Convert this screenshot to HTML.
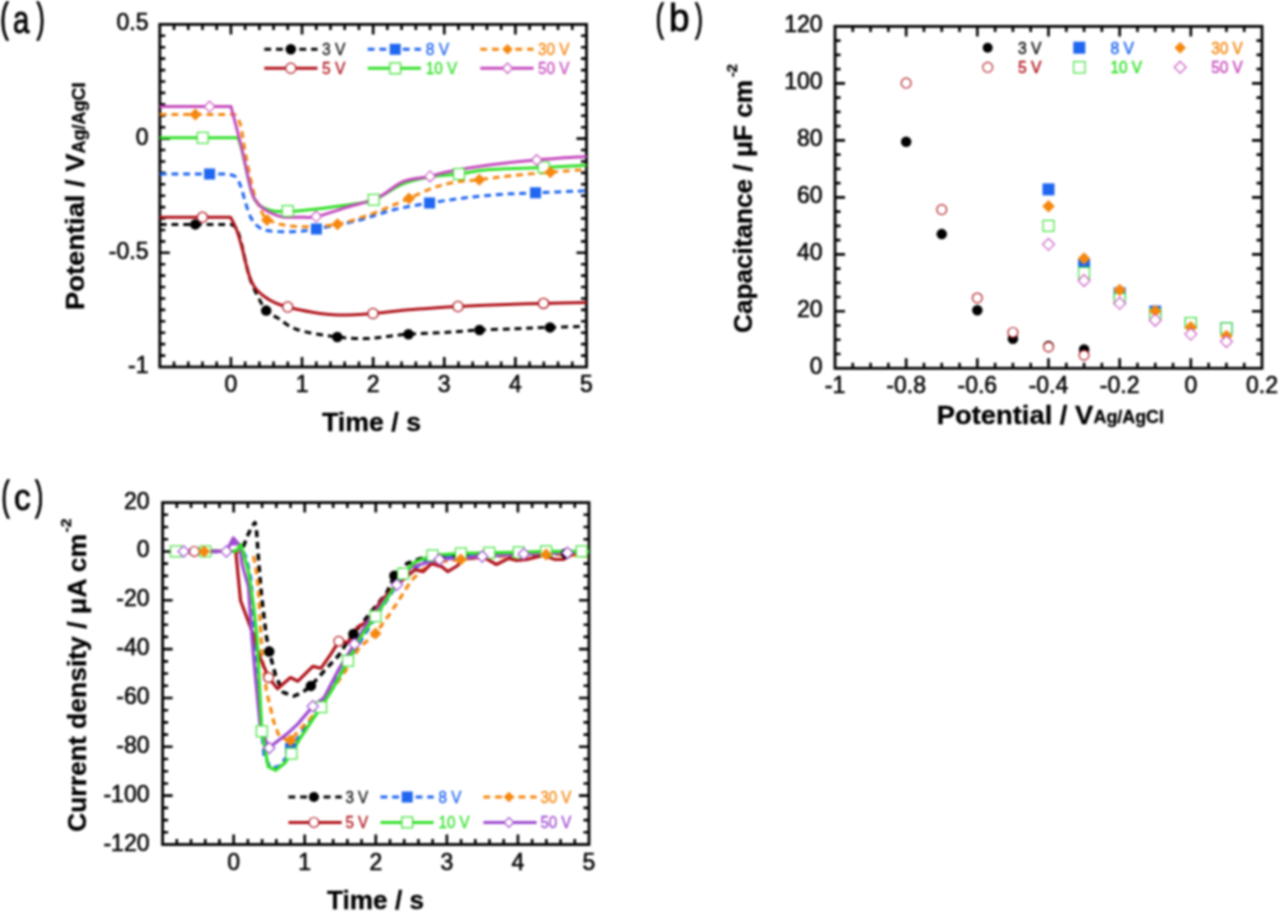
<!DOCTYPE html><html><head><meta charset="utf-8"><style>html,body{margin:0;padding:0;background:#fff;width:1280px;height:916px;overflow:hidden}svg{display:block;filter:blur(0.8px)}</style></head><body>
<svg width="1280" height="916" viewBox="0 0 1280 916" font-family='"Liberation Sans", sans-serif'>
<rect width="1280" height="916" fill="#fff"/>
<rect x="159.8" y="24.4" width="426.7" height="342.6" fill="none" stroke="#000" stroke-width="2.8"/>
<path d="M174.02 367.0V361.5 M174.02 24.4V29.9 M188.25 367.0V361.5 M188.25 24.4V29.9 M202.47 367.0V361.5 M202.47 24.4V29.9 M216.69 367.0V361.5 M216.69 24.4V29.9 M230.92 367.0V357.0 M230.92 24.4V34.4 M245.14 367.0V361.5 M245.14 24.4V29.9 M259.36 367.0V361.5 M259.36 24.4V29.9 M273.59 367.0V361.5 M273.59 24.4V29.9 M287.81 367.0V361.5 M287.81 24.4V29.9 M302.03 367.0V357.0 M302.03 24.4V34.4 M316.26 367.0V361.5 M316.26 24.4V29.9 M330.48 367.0V361.5 M330.48 24.4V29.9 M344.70 367.0V361.5 M344.70 24.4V29.9 M358.93 367.0V361.5 M358.93 24.4V29.9 M373.15 367.0V357.0 M373.15 24.4V34.4 M387.37 367.0V361.5 M387.37 24.4V29.9 M401.60 367.0V361.5 M401.60 24.4V29.9 M415.82 367.0V361.5 M415.82 24.4V29.9 M430.04 367.0V361.5 M430.04 24.4V29.9 M444.27 367.0V357.0 M444.27 24.4V34.4 M458.49 367.0V361.5 M458.49 24.4V29.9 M472.71 367.0V361.5 M472.71 24.4V29.9 M486.94 367.0V361.5 M486.94 24.4V29.9 M501.16 367.0V361.5 M501.16 24.4V29.9 M515.38 367.0V357.0 M515.38 24.4V34.4 M529.61 367.0V361.5 M529.61 24.4V29.9 M543.83 367.0V361.5 M543.83 24.4V29.9 M558.05 367.0V361.5 M558.05 24.4V29.9 M572.28 367.0V361.5 M572.28 24.4V29.9 M159.8 35.82H165.3 M586.5 35.82H581.0 M159.8 47.24H165.3 M586.5 47.24H581.0 M159.8 58.66H165.3 M586.5 58.66H581.0 M159.8 70.08H165.3 M586.5 70.08H581.0 M159.8 81.50H165.3 M586.5 81.50H581.0 M159.8 92.92H165.3 M586.5 92.92H581.0 M159.8 104.34H165.3 M586.5 104.34H581.0 M159.8 115.76H165.3 M586.5 115.76H581.0 M159.8 127.18H165.3 M586.5 127.18H581.0 M159.8 138.60H169.8 M586.5 138.60H576.5 M159.8 150.02H165.3 M586.5 150.02H581.0 M159.8 161.44H165.3 M586.5 161.44H581.0 M159.8 172.86H165.3 M586.5 172.86H581.0 M159.8 184.28H165.3 M586.5 184.28H581.0 M159.8 195.70H165.3 M586.5 195.70H581.0 M159.8 207.12H165.3 M586.5 207.12H581.0 M159.8 218.54H165.3 M586.5 218.54H581.0 M159.8 229.96H165.3 M586.5 229.96H581.0 M159.8 241.38H165.3 M586.5 241.38H581.0 M159.8 252.80H169.8 M586.5 252.80H576.5 M159.8 264.22H165.3 M586.5 264.22H581.0 M159.8 275.64H165.3 M586.5 275.64H581.0 M159.8 287.06H165.3 M586.5 287.06H581.0 M159.8 298.48H165.3 M586.5 298.48H581.0 M159.8 309.90H165.3 M586.5 309.90H581.0 M159.8 321.32H165.3 M586.5 321.32H581.0 M159.8 332.74H165.3 M586.5 332.74H581.0 M159.8 344.16H165.3 M586.5 344.16H581.0 M159.8 355.58H165.3 M586.5 355.58H581.0" stroke="#000" stroke-width="2.6" fill="none"/>
<text transform="translate(0.26,31.73) scale(0.623,1)" font-size="39.93" fill="#000" stroke="#000" stroke-width="1.3">(</text><text transform="translate(13.05,32.72) scale(0.749,1)" font-size="39.24" fill="#000" stroke="#000" stroke-width="0.9">a</text><text transform="translate(36.86,31.73) scale(0.595,1)" font-size="39.93" fill="#000" stroke="#000" stroke-width="1.3">)</text>
<text x="148.5" y="30.4" font-size="23" text-anchor="end" font-weight="normal" fill="#000" stroke="#000" stroke-width="0.55" >0.5</text>
<text x="148.5" y="144.6" font-size="23" text-anchor="end" font-weight="normal" fill="#000" stroke="#000" stroke-width="0.55" >0</text>
<text x="148.5" y="258.8" font-size="23" text-anchor="end" font-weight="normal" fill="#000" stroke="#000" stroke-width="0.55" >-0.5</text>
<text x="148.5" y="373.00000000000006" font-size="23" text-anchor="end" font-weight="normal" fill="#000" stroke="#000" stroke-width="0.55" >-1</text>
<text x="230.91666666666669" y="392" font-size="23" text-anchor="middle" font-weight="normal" fill="#000" stroke="#000" stroke-width="0.55" >0</text>
<text x="302.0333333333333" y="392" font-size="23" text-anchor="middle" font-weight="normal" fill="#000" stroke="#000" stroke-width="0.55" >1</text>
<text x="373.15" y="392" font-size="23" text-anchor="middle" font-weight="normal" fill="#000" stroke="#000" stroke-width="0.55" >2</text>
<text x="444.26666666666665" y="392" font-size="23" text-anchor="middle" font-weight="normal" fill="#000" stroke="#000" stroke-width="0.55" >3</text>
<text x="515.3833333333333" y="392" font-size="23" text-anchor="middle" font-weight="normal" fill="#000" stroke="#000" stroke-width="0.55" >4</text>
<text x="586.5" y="392" font-size="23" text-anchor="middle" font-weight="normal" fill="#000" stroke="#000" stroke-width="0.55" >5</text>
<text x="322" y="431.2" font-size="26.5" text-anchor="start" font-weight="bold" fill="#000" textLength="99" lengthAdjust="spacingAndGlyphs" stroke="#000" stroke-width="0.3" >Time / s</text>
<g transform="translate(83.8,310) rotate(-90)"><text x="0" y="0" font-size="26.5" text-anchor="start" font-weight="bold" fill="#000" textLength="156.5" lengthAdjust="spacingAndGlyphs" stroke="#000" stroke-width="0.3" >Potential / V</text><text x="156.5" y="1.2" font-size="18" text-anchor="start" font-weight="bold" fill="#000" textLength="71" lengthAdjust="spacingAndGlyphs" stroke="#000" stroke-width="0.3" >Ag/AgCl</text></g>
<path d="M159.8 224.4 L231.00 224.40 C231.83 225.00 234.43 225.52 236.00 228.00 C237.57 230.48 238.68 233.15 240.40 239.30 C242.12 245.45 244.33 257.37 246.30 264.90 C248.27 272.43 248.92 276.88 252.20 284.50 C255.48 292.12 261.73 305.02 266.00 310.60 C270.27 316.18 272.57 314.82 277.80 318.00 C283.03 321.18 287.53 326.53 297.40 329.70 C307.27 332.87 325.53 335.52 337.00 337.00 C348.47 338.48 357.53 338.73 366.20 338.60 C374.87 338.47 382.00 336.93 389.00 336.20 C396.00 335.47 398.42 334.85 408.20 334.20 C417.98 333.55 435.90 333.00 447.70 332.30 C459.50 331.60 467.62 330.59 479.00 330.00 C490.38 329.41 504.33 329.18 516.00 328.75 C527.67 328.32 537.25 327.81 549.00 327.40 C560.75 326.99 580.25 326.48 586.50 326.30" fill="none" stroke="#000000" stroke-width="3.0" stroke-linejoin="round" stroke-dasharray="6.8 4.9"/>
<path d="M159.8 217.3 L230.60 217.30 C231.58 219.33 234.53 224.22 236.50 229.50 C238.47 234.78 240.43 241.80 242.40 249.00 C244.37 256.20 246.33 266.45 248.30 272.70 C250.27 278.95 251.58 282.57 254.20 286.50 C256.82 290.43 260.40 293.52 264.00 296.30 C267.60 299.08 271.87 301.42 275.80 303.20 C279.73 304.98 281.70 305.53 287.60 307.00 C293.50 308.47 302.68 310.67 311.20 312.00 C319.72 313.33 328.42 314.75 338.70 315.00 C348.98 315.25 361.25 314.37 372.90 313.50 C384.55 312.63 398.42 310.73 408.60 309.80 C418.78 308.87 425.80 308.45 434.00 307.90 C442.20 307.35 445.76 307.07 457.80 306.50 C469.84 305.93 492.05 305.02 506.25 304.50 C520.45 303.98 529.62 303.73 543.00 303.40 C556.38 303.07 579.25 302.65 586.50 302.50" fill="none" stroke="#B0141C" stroke-width="3.0" stroke-linejoin="round"/>
<path d="M159.8 174 L228.00 174.00 C229.33 174.50 233.83 174.83 236.00 177.00 C238.17 179.17 239.38 182.62 241.00 187.00 C242.62 191.38 243.93 197.98 245.70 203.30 C247.47 208.62 249.00 214.67 251.60 218.90 C254.20 223.13 257.07 226.58 261.30 228.70 C265.53 230.82 270.55 231.18 277.00 231.60 C283.45 232.02 293.43 231.63 300.00 231.20 C306.57 230.77 306.63 230.83 316.40 229.00 C326.17 227.17 345.71 223.42 358.60 220.20 C371.49 216.98 381.92 212.57 393.75 209.70 C405.58 206.83 417.89 204.95 429.60 203.00 C441.31 201.05 452.40 199.42 464.00 198.00 C475.60 196.58 487.28 195.37 499.20 194.50 C511.12 193.63 520.95 193.42 535.50 192.80 C550.05 192.18 578.00 191.13 586.50 190.80" fill="none" stroke="#1F66F0" stroke-width="3.0" stroke-linejoin="round" stroke-dasharray="6.8 4.9"/>
<path d="M159.8 114.4 L235.00 114.40 C235.92 116.17 238.72 118.32 240.50 125.00 C242.28 131.68 243.53 143.40 245.70 154.50 C247.87 165.60 250.90 182.18 253.50 191.60 C256.10 201.02 259.05 206.43 261.30 211.00 C263.55 215.57 263.42 216.70 267.00 219.00 C270.58 221.30 276.26 223.52 282.80 224.80 C289.34 226.08 297.13 226.80 306.25 226.70 C315.37 226.60 326.82 226.25 337.50 224.20 C348.18 222.15 360.93 217.60 370.30 214.40 C379.68 211.20 387.30 207.67 393.75 205.00 C400.20 202.33 402.76 201.13 409.00 198.40 C415.24 195.67 423.98 191.22 431.20 188.60 C438.42 185.98 444.28 184.18 452.30 182.70 C460.32 181.22 469.52 180.87 479.30 179.70 C489.08 178.53 499.17 176.95 511.00 175.70 C522.83 174.45 537.72 173.23 550.30 172.20 C562.88 171.17 580.47 169.95 586.50 169.50" fill="none" stroke="#F5870F" stroke-width="3.0" stroke-linejoin="round" stroke-dasharray="6.8 4.9"/>
<path d="M159.8 137.8 L238.00 137.80 C238.63 139.83 239.53 140.97 241.80 150.00 C244.07 159.03 248.67 182.80 251.60 192.00 C254.53 201.20 256.17 202.12 259.40 205.20 C262.63 208.28 267.10 209.45 271.00 210.50 C274.90 211.55 277.97 211.45 282.80 211.50 C287.63 211.55 289.58 211.85 300.00 210.80 C310.42 209.75 333.00 207.03 345.30 205.20 C357.60 203.37 364.18 203.35 373.80 199.80 C383.42 196.25 393.43 187.72 403.00 183.90 C412.57 180.08 421.87 178.55 431.20 176.90 C440.53 175.25 449.62 175.18 459.00 174.00 C468.38 172.82 473.38 170.88 487.50 169.80 C501.62 168.72 527.20 168.25 543.70 167.50 C560.20 166.75 579.37 165.67 586.50 165.30" fill="none" stroke="#34E02C" stroke-width="3.0" stroke-linejoin="round"/>
<path d="M159.8 106.6 L231.00 106.60 C232.80 113.60 238.37 134.43 241.80 148.60 C245.23 162.77 248.67 182.17 251.60 191.60 C254.53 201.03 256.17 201.63 259.40 205.20 C262.63 208.77 267.10 211.03 271.00 213.00 C274.90 214.97 277.97 216.30 282.80 217.00 C287.63 217.70 294.43 217.27 300.00 217.20 C305.57 217.13 308.38 218.25 316.20 216.60 C324.02 214.95 336.72 210.40 346.90 207.30 C357.08 204.20 367.95 202.28 377.30 198.00 C386.65 193.72 394.22 185.20 403.00 181.60 C411.78 178.00 422.95 177.97 430.00 176.40 C437.05 174.83 435.72 174.07 445.30 172.20 C454.88 170.33 472.27 167.23 487.50 165.20 C502.73 163.17 520.20 161.45 536.70 160.00 C553.20 158.55 578.20 157.08 586.50 156.50" fill="none" stroke="#C64CBE" stroke-width="3.0" stroke-linejoin="round"/>
<circle cx="195.30" cy="224.40" r="5.25" fill="#000000"/>
<circle cx="266.20" cy="310.60" r="5.25" fill="#000000"/>
<circle cx="337.30" cy="337.00" r="5.25" fill="#000000"/>
<circle cx="408.50" cy="334.20" r="5.25" fill="#000000"/>
<circle cx="479.50" cy="330.00" r="5.25" fill="#000000"/>
<circle cx="550.00" cy="327.40" r="5.25" fill="#000000"/>
<circle cx="202.40" cy="217.30" r="5.10" fill="#fff" stroke="#B0141C" stroke-width="1.3"/>
<circle cx="287.70" cy="307.00" r="5.10" fill="#fff" stroke="#B0141C" stroke-width="1.3"/>
<circle cx="373.00" cy="313.50" r="5.10" fill="#fff" stroke="#B0141C" stroke-width="1.3"/>
<circle cx="458.00" cy="306.50" r="5.10" fill="#fff" stroke="#B0141C" stroke-width="1.3"/>
<circle cx="543.50" cy="303.40" r="5.10" fill="#fff" stroke="#B0141C" stroke-width="1.3"/>
<rect x="204.10" y="168.50" width="11" height="11" fill="#1F66F0"/>
<rect x="310.90" y="223.50" width="11" height="11" fill="#1F66F0"/>
<rect x="424.10" y="197.50" width="11" height="11" fill="#1F66F0"/>
<rect x="530.00" y="187.30" width="11" height="11" fill="#1F66F0"/>
<rect x="197.25" y="132.35" width="10.90" height="10.90" fill="#fff" stroke="#34E02C" stroke-width="1.1"/>
<rect x="282.25" y="205.55" width="10.90" height="10.90" fill="#fff" stroke="#34E02C" stroke-width="1.1"/>
<rect x="368.25" y="194.35" width="10.90" height="10.90" fill="#fff" stroke="#34E02C" stroke-width="1.1"/>
<rect x="453.55" y="168.55" width="10.90" height="10.90" fill="#fff" stroke="#34E02C" stroke-width="1.1"/>
<rect x="538.25" y="161.85" width="10.90" height="10.90" fill="#fff" stroke="#34E02C" stroke-width="1.1"/>
<path d="M195.30 108.40L201.30 114.40L195.30 120.40L189.30 114.40Z" fill="#F5870F"/>
<path d="M267.00 214.00L273.00 220.00L267.00 226.00L261.00 220.00Z" fill="#F5870F"/>
<path d="M337.50 218.20L343.50 224.20L337.50 230.20L331.50 224.20Z" fill="#F5870F"/>
<path d="M409.00 192.40L415.00 198.40L409.00 204.40L403.00 198.40Z" fill="#F5870F"/>
<path d="M479.30 173.70L485.30 179.70L479.30 185.70L473.30 179.70Z" fill="#F5870F"/>
<path d="M550.30 166.20L556.30 172.20L550.30 178.20L544.30 172.20Z" fill="#F5870F"/>
<path d="M209.60 101.15L215.05 106.60L209.60 112.05L204.15 106.60Z" fill="#fff" stroke="#C64CBE" stroke-width="1.1"/>
<path d="M316.20 211.15L321.65 216.60L316.20 222.05L310.75 216.60Z" fill="#fff" stroke="#C64CBE" stroke-width="1.1"/>
<path d="M430.00 170.95L435.45 176.40L430.00 181.85L424.55 176.40Z" fill="#fff" stroke="#C64CBE" stroke-width="1.1"/>
<path d="M536.70 154.55L542.15 160.00L536.70 165.45L531.25 160.00Z" fill="#fff" stroke="#C64CBE" stroke-width="1.1"/>
<path d="M264.3 49.3H317.5" fill="none" stroke="#000000" stroke-width="3" stroke-linejoin="round" stroke-dasharray="6.8 4.9"/>
<circle cx="290.80" cy="49.30" r="5.25" fill="#000000"/>
<text x="322" y="55.3" font-size="16.3" text-anchor="start" font-weight="normal" fill="#111" textLength="23.5" lengthAdjust="spacingAndGlyphs" stroke="#111" stroke-width="0.3" >3 V</text>
<path d="M367.7 49.3H420.9" fill="none" stroke="#1F66F0" stroke-width="3" stroke-linejoin="round" stroke-dasharray="6.8 4.9"/>
<rect x="389.70" y="43.80" width="11" height="11" fill="#1F66F0"/>
<text x="425.8" y="55.3" font-size="16.3" text-anchor="start" font-weight="normal" fill="#1F66F0" textLength="23.5" lengthAdjust="spacingAndGlyphs" stroke="#1F66F0" stroke-width="0.3" >8 V</text>
<path d="M480.3 49.3H533.5" fill="none" stroke="#F5870F" stroke-width="3" stroke-linejoin="round" stroke-dasharray="6.8 4.9"/>
<path d="M507.50 44.05L512.75 49.30L507.50 54.55L502.25 49.30Z" fill="#F5870F"/>
<text x="537.9" y="55.3" font-size="16.3" text-anchor="start" font-weight="normal" fill="#F5870F" textLength="31.5" lengthAdjust="spacingAndGlyphs" stroke="#F5870F" stroke-width="0.3" >30 V</text>
<path d="M264.3 68.3H317.5" fill="none" stroke="#B0141C" stroke-width="3" stroke-linejoin="round"/>
<circle cx="290.80" cy="68.30" r="5.15" fill="#fff" stroke="#B0141C" stroke-width="1.2"/>
<text x="322" y="74.3" font-size="16.3" text-anchor="start" font-weight="normal" fill="#B0141C" textLength="23.5" lengthAdjust="spacingAndGlyphs" stroke="#B0141C" stroke-width="0.3" >5 V</text>
<path d="M367.7 68.3H420.9" fill="none" stroke="#34E02C" stroke-width="3" stroke-linejoin="round"/>
<rect x="389.80" y="62.90" width="10.80" height="10.80" fill="#fff" stroke="#34E02C" stroke-width="1.2"/>
<text x="425.8" y="74.3" font-size="16.3" text-anchor="start" font-weight="normal" fill="#34E02C" textLength="31.5" lengthAdjust="spacingAndGlyphs" stroke="#34E02C" stroke-width="0.3" >10 V</text>
<path d="M480.3 68.3H533.5" fill="none" stroke="#C64CBE" stroke-width="3" stroke-linejoin="round"/>
<path d="M507.50 63.15L512.65 68.30L507.50 73.45L502.35 68.30Z" fill="#fff" stroke="#C64CBE" stroke-width="1.2"/>
<text x="537.9" y="74.3" font-size="16.3" text-anchor="start" font-weight="normal" fill="#C64CBE" textLength="31.5" lengthAdjust="spacingAndGlyphs" stroke="#C64CBE" stroke-width="0.3" >50 V</text>
<rect x="835.0" y="26.4" width="427.0" height="341.90000000000003" fill="none" stroke="#000" stroke-width="2.8"/>
<path d="M852.79 368.3V362.8 M852.79 26.4V31.9 M870.58 368.3V362.8 M870.58 26.4V31.9 M888.38 368.3V362.8 M888.38 26.4V31.9 M906.17 368.3V358.3 M906.17 26.4V36.4 M923.96 368.3V362.8 M923.96 26.4V31.9 M941.75 368.3V362.8 M941.75 26.4V31.9 M959.54 368.3V362.8 M959.54 26.4V31.9 M977.33 368.3V358.3 M977.33 26.4V36.4 M995.12 368.3V362.8 M995.12 26.4V31.9 M1012.92 368.3V362.8 M1012.92 26.4V31.9 M1030.71 368.3V362.8 M1030.71 26.4V31.9 M1048.50 368.3V358.3 M1048.50 26.4V36.4 M1066.29 368.3V362.8 M1066.29 26.4V31.9 M1084.08 368.3V362.8 M1084.08 26.4V31.9 M1101.88 368.3V362.8 M1101.88 26.4V31.9 M1119.67 368.3V358.3 M1119.67 26.4V36.4 M1137.46 368.3V362.8 M1137.46 26.4V31.9 M1155.25 368.3V362.8 M1155.25 26.4V31.9 M1173.04 368.3V362.8 M1173.04 26.4V31.9 M1190.83 368.3V358.3 M1190.83 26.4V36.4 M1208.62 368.3V362.8 M1208.62 26.4V31.9 M1226.42 368.3V362.8 M1226.42 26.4V31.9 M1244.21 368.3V362.8 M1244.21 26.4V31.9 M835.0 354.05H840.5 M1262.0 354.05H1256.5 M835.0 339.81H840.5 M1262.0 339.81H1256.5 M835.0 325.56H840.5 M1262.0 325.56H1256.5 M835.0 311.32H845.0 M1262.0 311.32H1252.0 M835.0 297.07H840.5 M1262.0 297.07H1256.5 M835.0 282.82H840.5 M1262.0 282.82H1256.5 M835.0 268.58H840.5 M1262.0 268.58H1256.5 M835.0 254.33H845.0 M1262.0 254.33H1252.0 M835.0 240.09H840.5 M1262.0 240.09H1256.5 M835.0 225.84H840.5 M1262.0 225.84H1256.5 M835.0 211.60H840.5 M1262.0 211.60H1256.5 M835.0 197.35H845.0 M1262.0 197.35H1252.0 M835.0 183.10H840.5 M1262.0 183.10H1256.5 M835.0 168.86H840.5 M1262.0 168.86H1256.5 M835.0 154.61H840.5 M1262.0 154.61H1256.5 M835.0 140.37H845.0 M1262.0 140.37H1252.0 M835.0 126.12H840.5 M1262.0 126.12H1256.5 M835.0 111.88H840.5 M1262.0 111.88H1256.5 M835.0 97.63H840.5 M1262.0 97.63H1256.5 M835.0 83.38H845.0 M1262.0 83.38H1252.0 M835.0 69.14H840.5 M1262.0 69.14H1256.5 M835.0 54.89H840.5 M1262.0 54.89H1256.5 M835.0 40.65H840.5 M1262.0 40.65H1256.5" stroke="#000" stroke-width="2.6" fill="none"/>
<text transform="translate(655.73,30.78) scale(0.598,1)" font-size="39.71" fill="#000" stroke="#000" stroke-width="1.3">(</text><text transform="translate(669.02,31.22) scale(0.948,1)" font-size="38.94" fill="#000" stroke="#000" stroke-width="0.9">b</text><text transform="translate(695.17,30.78) scale(0.570,1)" font-size="39.71" fill="#000" stroke="#000" stroke-width="1.3">)</text>
<text x="822.5" y="374.3" font-size="23" text-anchor="end" font-weight="normal" fill="#000" stroke="#000" stroke-width="0.55" >0</text>
<text x="822.5" y="317.31666666666666" font-size="23" text-anchor="end" font-weight="normal" fill="#000" stroke="#000" stroke-width="0.55" >20</text>
<text x="822.5" y="260.3333333333333" font-size="23" text-anchor="end" font-weight="normal" fill="#000" stroke="#000" stroke-width="0.55" >40</text>
<text x="822.5" y="203.35" font-size="23" text-anchor="end" font-weight="normal" fill="#000" stroke="#000" stroke-width="0.55" >60</text>
<text x="822.5" y="146.36666666666665" font-size="23" text-anchor="end" font-weight="normal" fill="#000" stroke="#000" stroke-width="0.55" >80</text>
<text x="822.5" y="89.38333333333333" font-size="23" text-anchor="end" font-weight="normal" fill="#000" stroke="#000" stroke-width="0.55" >100</text>
<text x="822.5" y="32.39999999999998" font-size="23" text-anchor="end" font-weight="normal" fill="#000" stroke="#000" stroke-width="0.55" >120</text>
<text x="835.0" y="392.5" font-size="23" text-anchor="middle" font-weight="normal" fill="#000" stroke="#000" stroke-width="0.55" >-1</text>
<text x="906.1666666666666" y="392.5" font-size="23" text-anchor="middle" font-weight="normal" fill="#000" stroke="#000" stroke-width="0.55" >-0.8</text>
<text x="977.3333333333334" y="392.5" font-size="23" text-anchor="middle" font-weight="normal" fill="#000" stroke="#000" stroke-width="0.55" >-0.6</text>
<text x="1048.5" y="392.5" font-size="23" text-anchor="middle" font-weight="normal" fill="#000" stroke="#000" stroke-width="0.55" >-0.4</text>
<text x="1119.6666666666667" y="392.5" font-size="23" text-anchor="middle" font-weight="normal" fill="#000" stroke="#000" stroke-width="0.55" >-0.2</text>
<text x="1190.8333333333335" y="392.5" font-size="23" text-anchor="middle" font-weight="normal" fill="#000" stroke="#000" stroke-width="0.55" >0</text>
<text x="1262.0" y="392.5" font-size="23" text-anchor="middle" font-weight="normal" fill="#000" stroke="#000" stroke-width="0.55" >0.2</text>
<text x="936.8" y="423.6" font-size="26.5" text-anchor="start" font-weight="bold" fill="#000" textLength="156.5" lengthAdjust="spacingAndGlyphs" stroke="#000" stroke-width="0.3" >Potential / V</text>
<text x="1093.5" y="423.4" font-size="18" text-anchor="start" font-weight="bold" fill="#000" textLength="70.5" lengthAdjust="spacingAndGlyphs" stroke="#000" stroke-width="0.3" >Ag/AgCl</text>
<g transform="translate(752,333) rotate(-90)"><text x="0" y="0" font-size="26.5" text-anchor="start" font-weight="bold" fill="#000" textLength="253" lengthAdjust="spacingAndGlyphs" stroke="#000" stroke-width="0.3" >Capacitance / μF cm</text></g>
<g transform="translate(737,77) rotate(-90)"><text x="0" y="0" font-size="14" text-anchor="start" font-weight="bold" fill="#000" textLength="13" lengthAdjust="spacingAndGlyphs" stroke="#000" stroke-width="0.3" >-2</text></g>
<circle cx="906.17" cy="141.79" r="5.25" fill="#000000"/>
<circle cx="941.75" cy="234.10" r="5.25" fill="#000000"/>
<circle cx="977.33" cy="310.18" r="5.25" fill="#000000"/>
<circle cx="1012.92" cy="338.67" r="5.25" fill="#000000"/>
<circle cx="1048.50" cy="346.08" r="5.25" fill="#000000"/>
<circle cx="1084.08" cy="349.50" r="5.25" fill="#000000"/>
<circle cx="906.17" cy="83.10" r="4.90" fill="#fff" stroke="#B0141C" stroke-width="1.2"/>
<circle cx="941.75" cy="209.60" r="4.90" fill="#fff" stroke="#B0141C" stroke-width="1.2"/>
<circle cx="977.33" cy="297.93" r="4.90" fill="#fff" stroke="#B0141C" stroke-width="1.2"/>
<circle cx="1012.92" cy="332.40" r="4.90" fill="#fff" stroke="#B0141C" stroke-width="1.2"/>
<circle cx="1048.50" cy="346.93" r="4.90" fill="#fff" stroke="#B0141C" stroke-width="1.2"/>
<circle cx="1084.08" cy="355.19" r="4.90" fill="#fff" stroke="#B0141C" stroke-width="1.2"/>
<rect x="1042.50" y="183.37" width="12" height="12" fill="#1F66F0"/>
<rect x="1078.08" y="258.02" width="12" height="12" fill="#1F66F0"/>
<rect x="1113.67" y="287.37" width="12" height="12" fill="#1F66F0"/>
<rect x="1149.25" y="305.60" width="12" height="12" fill="#1F66F0"/>
<rect x="1184.83" y="317.00" width="12" height="12" fill="#1F66F0"/>
<rect x="1220.42" y="322.41" width="12" height="12" fill="#1F66F0"/>
<rect x="1043.05" y="220.39" width="10.90" height="10.90" fill="#fff" stroke="#34E02C" stroke-width="1.1"/>
<rect x="1078.63" y="267.40" width="10.90" height="10.90" fill="#fff" stroke="#34E02C" stroke-width="1.1"/>
<rect x="1114.22" y="293.33" width="10.90" height="10.90" fill="#fff" stroke="#34E02C" stroke-width="1.1"/>
<rect x="1149.80" y="308.72" width="10.90" height="10.90" fill="#fff" stroke="#34E02C" stroke-width="1.1"/>
<rect x="1185.38" y="317.55" width="10.90" height="10.90" fill="#fff" stroke="#34E02C" stroke-width="1.1"/>
<rect x="1220.97" y="322.96" width="10.90" height="10.90" fill="#fff" stroke="#34E02C" stroke-width="1.1"/>
<path d="M1048.50 199.93L1054.75 206.18L1048.50 212.43L1042.25 206.18Z" fill="#F5870F"/>
<path d="M1084.08 252.36L1090.33 258.61L1084.08 264.86L1077.83 258.61Z" fill="#F5870F"/>
<path d="M1119.67 283.70L1125.92 289.95L1119.67 296.20L1113.42 289.95Z" fill="#F5870F"/>
<path d="M1155.25 304.78L1161.50 311.03L1155.25 317.28L1149.00 311.03Z" fill="#F5870F"/>
<path d="M1190.83 321.02L1197.08 327.27L1190.83 333.52L1184.58 327.27Z" fill="#F5870F"/>
<path d="M1226.42 329.85L1232.67 336.10L1226.42 342.35L1220.17 336.10Z" fill="#F5870F"/>
<path d="M1048.50 238.41L1054.45 244.36L1048.50 250.31L1042.55 244.36Z" fill="#fff" stroke="#C64CBE" stroke-width="1.1"/>
<path d="M1084.08 274.60L1090.03 280.55L1084.08 286.50L1078.13 280.55Z" fill="#fff" stroke="#C64CBE" stroke-width="1.1"/>
<path d="M1119.67 297.39L1125.62 303.34L1119.67 309.29L1113.72 303.34Z" fill="#fff" stroke="#C64CBE" stroke-width="1.1"/>
<path d="M1155.25 314.20L1161.20 320.15L1155.25 326.10L1149.30 320.15Z" fill="#fff" stroke="#C64CBE" stroke-width="1.1"/>
<path d="M1190.83 328.16L1196.78 334.11L1190.83 340.06L1184.88 334.11Z" fill="#fff" stroke="#C64CBE" stroke-width="1.1"/>
<path d="M1226.42 335.57L1232.37 341.52L1226.42 347.47L1220.47 341.52Z" fill="#fff" stroke="#C64CBE" stroke-width="1.1"/>
<circle cx="987.70" cy="47.70" r="5.00" fill="#000000"/>
<text x="1018" y="53.7" font-size="16.3" text-anchor="start" font-weight="normal" fill="#111" textLength="23.5" lengthAdjust="spacingAndGlyphs" stroke="#111" stroke-width="0.45" >3 V</text>
<circle cx="987.70" cy="67.30" r="4.95" fill="#fff" stroke="#B0141C" stroke-width="1.1"/>
<text x="1018" y="73.3" font-size="16.3" text-anchor="start" font-weight="normal" fill="#B0141C" textLength="23.5" lengthAdjust="spacingAndGlyphs" stroke="#B0141C" stroke-width="0.45" >5 V</text>
<rect x="1073.30" y="41.70" width="12" height="12" fill="#1F66F0"/>
<text x="1110.5" y="53.7" font-size="16.3" text-anchor="start" font-weight="normal" fill="#1F66F0" textLength="23.5" lengthAdjust="spacingAndGlyphs" stroke="#1F66F0" stroke-width="0.45" >8 V</text>
<rect x="1073.60" y="61.60" width="11.40" height="11.40" fill="#fff" stroke="#34E02C" stroke-width="1.1"/>
<text x="1110.5" y="73.3" font-size="16.3" text-anchor="start" font-weight="normal" fill="#34E02C" textLength="31.5" lengthAdjust="spacingAndGlyphs" stroke="#34E02C" stroke-width="0.45" >10 V</text>
<path d="M1180.20 41.95L1185.95 47.70L1180.20 53.45L1174.45 47.70Z" fill="#F5870F"/>
<text x="1211.3" y="53.7" font-size="16.3" text-anchor="start" font-weight="normal" fill="#F5870F" textLength="31.5" lengthAdjust="spacingAndGlyphs" stroke="#F5870F" stroke-width="0.45" >30 V</text>
<path d="M1180.20 61.35L1186.15 67.30L1180.20 73.25L1174.25 67.30Z" fill="#fff" stroke="#C64CBE" stroke-width="1.1"/>
<text x="1211.3" y="73.3" font-size="16.3" text-anchor="start" font-weight="normal" fill="#C64CBE" textLength="31.5" lengthAdjust="spacingAndGlyphs" stroke="#C64CBE" stroke-width="0.45" >50 V</text>
<rect x="162.6" y="502.6" width="426.4" height="341.9" fill="none" stroke="#000" stroke-width="2.8"/>
<path d="M176.81 844.5V839.0 M176.81 502.6V508.1 M191.03 844.5V839.0 M191.03 502.6V508.1 M205.24 844.5V839.0 M205.24 502.6V508.1 M219.45 844.5V839.0 M219.45 502.6V508.1 M233.67 844.5V834.5 M233.67 502.6V512.6 M247.88 844.5V839.0 M247.88 502.6V508.1 M262.09 844.5V839.0 M262.09 502.6V508.1 M276.31 844.5V839.0 M276.31 502.6V508.1 M290.52 844.5V839.0 M290.52 502.6V508.1 M304.73 844.5V834.5 M304.73 502.6V512.6 M318.95 844.5V839.0 M318.95 502.6V508.1 M333.16 844.5V839.0 M333.16 502.6V508.1 M347.37 844.5V839.0 M347.37 502.6V508.1 M361.59 844.5V839.0 M361.59 502.6V508.1 M375.80 844.5V834.5 M375.80 502.6V512.6 M390.01 844.5V839.0 M390.01 502.6V508.1 M404.23 844.5V839.0 M404.23 502.6V508.1 M418.44 844.5V839.0 M418.44 502.6V508.1 M432.65 844.5V839.0 M432.65 502.6V508.1 M446.87 844.5V834.5 M446.87 502.6V512.6 M461.08 844.5V839.0 M461.08 502.6V508.1 M475.29 844.5V839.0 M475.29 502.6V508.1 M489.51 844.5V839.0 M489.51 502.6V508.1 M503.72 844.5V839.0 M503.72 502.6V508.1 M517.93 844.5V834.5 M517.93 502.6V512.6 M532.15 844.5V839.0 M532.15 502.6V508.1 M546.36 844.5V839.0 M546.36 502.6V508.1 M560.57 844.5V839.0 M560.57 502.6V508.1 M574.79 844.5V839.0 M574.79 502.6V508.1 M162.6 514.81H168.1 M589.0 514.81H583.5 M162.6 527.02H168.1 M589.0 527.02H583.5 M162.6 539.23H168.1 M589.0 539.23H583.5 M162.6 551.44H172.6 M589.0 551.44H579.0 M162.6 563.65H168.1 M589.0 563.65H583.5 M162.6 575.86H168.1 M589.0 575.86H583.5 M162.6 588.08H168.1 M589.0 588.08H583.5 M162.6 600.29H172.6 M589.0 600.29H579.0 M162.6 612.50H168.1 M589.0 612.50H583.5 M162.6 624.71H168.1 M589.0 624.71H583.5 M162.6 636.92H168.1 M589.0 636.92H583.5 M162.6 649.13H172.6 M589.0 649.13H579.0 M162.6 661.34H168.1 M589.0 661.34H583.5 M162.6 673.55H168.1 M589.0 673.55H583.5 M162.6 685.76H168.1 M589.0 685.76H583.5 M162.6 697.97H172.6 M589.0 697.97H579.0 M162.6 710.18H168.1 M589.0 710.18H583.5 M162.6 722.39H168.1 M589.0 722.39H583.5 M162.6 734.60H168.1 M589.0 734.60H583.5 M162.6 746.81H172.6 M589.0 746.81H579.0 M162.6 759.03H168.1 M589.0 759.03H583.5 M162.6 771.24H168.1 M589.0 771.24H583.5 M162.6 783.45H168.1 M589.0 783.45H583.5 M162.6 795.66H172.6 M589.0 795.66H579.0 M162.6 807.87H168.1 M589.0 807.87H583.5 M162.6 820.08H168.1 M589.0 820.08H583.5 M162.6 832.29H168.1 M589.0 832.29H583.5" stroke="#000" stroke-width="2.6" fill="none"/>
<text transform="translate(1.53,509.57) scale(0.590,1)" font-size="40.25" fill="#000" stroke="#000" stroke-width="1.3">(</text><text transform="translate(14.09,510.44) scale(0.909,1)" font-size="36.51" fill="#000" stroke="#000" stroke-width="0.9">c</text><text transform="translate(35.36,509.57) scale(0.590,1)" font-size="40.25" fill="#000" stroke="#000" stroke-width="1.3">)</text>
<text x="149.5" y="508.6" font-size="23" text-anchor="end" font-weight="normal" fill="#000" stroke="#000" stroke-width="0.55" >20</text>
<text x="149.5" y="557.4428571428572" font-size="23" text-anchor="end" font-weight="normal" fill="#000" stroke="#000" stroke-width="0.55" >0</text>
<text x="149.5" y="606.2857142857143" font-size="23" text-anchor="end" font-weight="normal" fill="#000" stroke="#000" stroke-width="0.55" >-20</text>
<text x="149.5" y="655.1285714285715" font-size="23" text-anchor="end" font-weight="normal" fill="#000" stroke="#000" stroke-width="0.55" >-40</text>
<text x="149.5" y="703.9714285714285" font-size="23" text-anchor="end" font-weight="normal" fill="#000" stroke="#000" stroke-width="0.55" >-60</text>
<text x="149.5" y="752.8142857142857" font-size="23" text-anchor="end" font-weight="normal" fill="#000" stroke="#000" stroke-width="0.55" >-80</text>
<text x="149.5" y="801.6571428571428" font-size="23" text-anchor="end" font-weight="normal" fill="#000" stroke="#000" stroke-width="0.55" >-100</text>
<text x="149.5" y="850.5" font-size="23" text-anchor="end" font-weight="normal" fill="#000" stroke="#000" stroke-width="0.55" >-120</text>
<text x="233.66666666666666" y="869.5" font-size="23" text-anchor="middle" font-weight="normal" fill="#000" stroke="#000" stroke-width="0.55" >0</text>
<text x="304.73333333333335" y="869.5" font-size="23" text-anchor="middle" font-weight="normal" fill="#000" stroke="#000" stroke-width="0.55" >1</text>
<text x="375.79999999999995" y="869.5" font-size="23" text-anchor="middle" font-weight="normal" fill="#000" stroke="#000" stroke-width="0.55" >2</text>
<text x="446.8666666666667" y="869.5" font-size="23" text-anchor="middle" font-weight="normal" fill="#000" stroke="#000" stroke-width="0.55" >3</text>
<text x="517.9333333333333" y="869.5" font-size="23" text-anchor="middle" font-weight="normal" fill="#000" stroke="#000" stroke-width="0.55" >4</text>
<text x="588.9999999999999" y="869.5" font-size="23" text-anchor="middle" font-weight="normal" fill="#000" stroke="#000" stroke-width="0.55" >5</text>
<text x="327" y="909" font-size="26.5" text-anchor="start" font-weight="bold" fill="#000" textLength="97" lengthAdjust="spacingAndGlyphs" stroke="#000" stroke-width="0.3" >Time / s</text>
<g transform="translate(86,832) rotate(-90)"><text x="0" y="0" font-size="26.5" text-anchor="start" font-weight="bold" fill="#000" textLength="298" lengthAdjust="spacingAndGlyphs" stroke="#000" stroke-width="0.3" >Current density / μA cm</text></g>
<g transform="translate(71.4,532.5) rotate(-90)"><text x="0" y="0" font-size="14" text-anchor="start" font-weight="bold" fill="#000" textLength="14" lengthAdjust="spacingAndGlyphs" stroke="#000" stroke-width="0.3" >-2</text></g>
<path d="M176.00 551.40 L241.50 551.40 L247.50 536.00 L251.50 527.00 L255.00 522.60 L256.50 530.00 L258.00 552.00 L259.50 572.00 L261.50 595.00 L266.10 634.80 L269.20 651.50 L275.70 675.70 L283.10 692.40 L294.20 696.00 L303.00 692.00 L310.90 685.90 L325.80 669.20 L338.80 655.30 L348.00 641.00 L353.40 634.00 L368.40 615.30 L386.70 593.00 L394.40 575.70 L407.00 563.50 L421.00 558.40 L460.00 556.00 L520.00 555.00 L589.00 553.00" fill="none" stroke="#000000" stroke-width="3.5" stroke-linejoin="round" stroke-dasharray="6.8 4.9"/>
<path d="M176.00 551.40 L238.00 551.40 L241.50 548.50 L246.50 558.40 L251.20 581.00 L254.50 640.00 L259.00 700.00 L264.00 755.00 L270.00 767.00 L278.00 767.00 L286.00 758.00 L290.50 748.50 L300.00 735.00 L320.00 707.00 L350.00 658.00 L375.00 618.00 L403.00 576.00 L432.00 557.00 L589.00 552.00" fill="none" stroke="#1F66F0" stroke-width="3.2" stroke-linejoin="round" stroke-dasharray="6.8 4.9"/>
<path d="M176.00 551.40 L240.00 551.40" fill="none" stroke="#F5870F" stroke-width="3.2" stroke-linejoin="round" stroke-dasharray="6.8 4.9"/>
<path d="M253.50 556.00 L256.00 569.00 L258.00 585.00 L259.50 609.30 L261.10 637.70 L263.00 665.00 L266.40 690.50 L273.80 722.00 L279.40 736.90 L290.50 740.60 L299.80 729.50 L310.90 718.30 L323.90 698.00 L336.90 683.10 L346.00 670.00 L359.20 647.80 L375.50 633.60 L388.80 615.30 L400.90 597.00 L411.00 580.80 L421.30 570.60 L433.40 562.50 L460.90 559.50 L482.20 557.40 L546.20 554.40 L589.00 556.00" fill="none" stroke="#F5870F" stroke-width="3.2" stroke-linejoin="round" stroke-dasharray="6.8 4.9"/>
<path d="M176.00 551.40 L235.80 551.40 L236.40 558.00 L240.60 600.80 L253.30 634.80 L259.90 657.10 L268.60 677.50 L277.50 688.70 L290.50 677.50 L297.90 681.20 L312.80 666.40 L321.10 668.20 L331.30 653.40 L338.80 641.30 L348.00 642.30 L357.30 627.40 L368.40 621.00 L380.60 601.10 L396.90 584.80 L415.20 569.60 L423.30 571.60 L431.40 563.50 L441.60 566.60 L447.70 571.60 L457.80 565.50 L461.90 557.40 L472.00 558.40 L482.20 556.40 L496.40 564.50 L508.60 558.40 L516.70 560.50 L526.90 559.50 L543.10 555.40 L555.30 559.50 L563.40 559.50 L573.60 553.40 L586.80 550.30" fill="none" stroke="#B0141C" stroke-width="3.2" stroke-linejoin="round"/>
<path d="M176.00 551.40 L236.00 551.40" fill="none" stroke="#34E02C" stroke-width="3.2" stroke-linejoin="round"/>
<path d="M176.00 551.40 L226.30 551.40 L233.30 538.00 L239.50 545.00 L242.00 563.90 L248.40 586.60 L251.90 637.70 L255.30 675.70 L259.90 723.90 L266.40 742.50 L269.20 748.00 L275.70 742.50 L286.80 734.10 L297.90 723.90 L312.80 706.30 L323.90 697.90 L338.80 669.20 L354.50 644.10 L368.40 621.00 L396.90 584.80 L411.00 567.00 L439.50 559.50 L482.20 556.40 L523.80 554.00 L567.50 552.80 L589.00 551.50" fill="none" stroke="#A04CD0" stroke-width="3.2" stroke-linejoin="round"/>
<path d="M236.00 551.40 L240.80 544.50 L248.40 571.00 L254.00 609.30 L256.90 637.70 L259.90 694.20 L261.80 731.30 L268.20 766.60 L275.70 770.30 L284.90 762.90 L291.40 753.60 L299.80 738.80 L315.00 716.00 L321.10 707.20 L332.00 690.00 L348.00 660.80 L362.00 635.00 L375.50 616.30 L390.00 594.00 L403.00 573.70 L415.00 562.00 L432.40 555.40 L460.90 553.40 L489.30 552.80 L518.70 552.30 L546.20 551.30 L589.00 551.30" fill="none" stroke="#34E02C" stroke-width="3.2" stroke-linejoin="round"/>
<path d="M228.8 545.5L233.3 536.8L237.7 545.5Z" fill="#A04CD0"/>
<circle cx="269.20" cy="651.50" r="5.25" fill="#000000"/>
<circle cx="310.90" cy="685.90" r="5.25" fill="#000000"/>
<circle cx="353.40" cy="634.00" r="5.25" fill="#000000"/>
<circle cx="394.40" cy="575.70" r="5.25" fill="#000000"/>
<circle cx="566.00" cy="553.50" r="5.25" fill="#000000"/>
<circle cx="194.40" cy="551.40" r="4.90" fill="#fff" stroke="#B0141C" stroke-width="1.2"/>
<circle cx="268.60" cy="677.50" r="4.90" fill="#fff" stroke="#B0141C" stroke-width="1.2"/>
<circle cx="338.80" cy="641.30" r="4.90" fill="#fff" stroke="#B0141C" stroke-width="1.2"/>
<rect x="285.00" y="743.00" width="11" height="11" fill="#1F66F0"/>
<rect x="170.55" y="545.95" width="10.90" height="10.90" fill="#fff" stroke="#34E02C" stroke-width="1.1"/>
<rect x="199.85" y="545.95" width="10.90" height="10.90" fill="#fff" stroke="#34E02C" stroke-width="1.1"/>
<rect x="256.35" y="725.85" width="10.90" height="10.90" fill="#fff" stroke="#34E02C" stroke-width="1.1"/>
<rect x="285.95" y="748.15" width="10.90" height="10.90" fill="#fff" stroke="#34E02C" stroke-width="1.1"/>
<rect x="315.65" y="701.75" width="10.90" height="10.90" fill="#fff" stroke="#34E02C" stroke-width="1.1"/>
<rect x="342.55" y="655.35" width="10.90" height="10.90" fill="#fff" stroke="#34E02C" stroke-width="1.1"/>
<rect x="370.05" y="610.85" width="10.90" height="10.90" fill="#fff" stroke="#34E02C" stroke-width="1.1"/>
<rect x="397.55" y="568.25" width="10.90" height="10.90" fill="#fff" stroke="#34E02C" stroke-width="1.1"/>
<rect x="426.95" y="549.95" width="10.90" height="10.90" fill="#fff" stroke="#34E02C" stroke-width="1.1"/>
<rect x="455.45" y="547.95" width="10.90" height="10.90" fill="#fff" stroke="#34E02C" stroke-width="1.1"/>
<rect x="483.85" y="547.35" width="10.90" height="10.90" fill="#fff" stroke="#34E02C" stroke-width="1.1"/>
<rect x="513.25" y="546.85" width="10.90" height="10.90" fill="#fff" stroke="#34E02C" stroke-width="1.1"/>
<rect x="540.75" y="545.85" width="10.90" height="10.90" fill="#fff" stroke="#34E02C" stroke-width="1.1"/>
<rect x="576.25" y="545.85" width="10.90" height="10.90" fill="#fff" stroke="#34E02C" stroke-width="1.1"/>
<path d="M290.50 734.60L296.50 740.60L290.50 746.60L284.50 740.60Z" fill="#F5870F"/>
<path d="M204.20 545.40L210.20 551.40L204.20 557.40L198.20 551.40Z" fill="#F5870F"/>
<path d="M375.50 627.60L381.50 633.60L375.50 639.60L369.50 633.60Z" fill="#F5870F"/>
<path d="M460.90 553.50L466.90 559.50L460.90 565.50L454.90 559.50Z" fill="#F5870F"/>
<path d="M546.20 548.40L552.20 554.40L546.20 560.40L540.20 554.40Z" fill="#F5870F"/>
<path d="M183.70 545.75L189.35 551.40L183.70 557.05L178.05 551.40Z" fill="#fff" stroke="#A04CD0" stroke-width="1.2"/>
<path d="M226.30 545.75L231.95 551.40L226.30 557.05L220.65 551.40Z" fill="#fff" stroke="#A04CD0" stroke-width="1.2"/>
<path d="M269.20 742.35L274.85 748.00L269.20 753.65L263.55 748.00Z" fill="#fff" stroke="#A04CD0" stroke-width="1.2"/>
<path d="M312.80 700.65L318.45 706.30L312.80 711.95L307.15 706.30Z" fill="#fff" stroke="#A04CD0" stroke-width="1.2"/>
<path d="M354.50 638.45L360.15 644.10L354.50 649.75L348.85 644.10Z" fill="#fff" stroke="#A04CD0" stroke-width="1.2"/>
<path d="M396.90 579.15L402.55 584.80L396.90 590.45L391.25 584.80Z" fill="#fff" stroke="#A04CD0" stroke-width="1.2"/>
<path d="M439.50 553.85L445.15 559.50L439.50 565.15L433.85 559.50Z" fill="#fff" stroke="#A04CD0" stroke-width="1.2"/>
<path d="M482.20 550.75L487.85 556.40L482.20 562.05L476.55 556.40Z" fill="#fff" stroke="#A04CD0" stroke-width="1.2"/>
<path d="M523.80 548.35L529.45 554.00L523.80 559.65L518.15 554.00Z" fill="#fff" stroke="#A04CD0" stroke-width="1.2"/>
<path d="M567.50 547.15L573.15 552.80L567.50 558.45L561.85 552.80Z" fill="#fff" stroke="#A04CD0" stroke-width="1.2"/>
<path d="M288.5 797H341.7" fill="none" stroke="#000000" stroke-width="3" stroke-linejoin="round" stroke-dasharray="6.8 4.9"/>
<circle cx="313.90" cy="797.00" r="5.00" fill="#000000"/>
<text x="345.4" y="802.7" font-size="15.8" text-anchor="start" font-weight="normal" fill="#111" textLength="22.8" lengthAdjust="spacingAndGlyphs" stroke="#111" stroke-width="0.3" >3 V</text>
<path d="M380.5 797H433.7" fill="none" stroke="#1F66F0" stroke-width="3" stroke-linejoin="round" stroke-dasharray="6.8 4.9"/>
<rect x="401.70" y="791.50" width="11" height="11" fill="#1F66F0"/>
<text x="438.6" y="802.7" font-size="15.8" text-anchor="start" font-weight="normal" fill="#1F66F0" textLength="22.8" lengthAdjust="spacingAndGlyphs" stroke="#1F66F0" stroke-width="0.3" >8 V</text>
<path d="M483.4 797H536.6" fill="none" stroke="#F5870F" stroke-width="3" stroke-linejoin="round" stroke-dasharray="6.8 4.9"/>
<path d="M508.90 791.75L514.15 797.00L508.90 802.25L503.65 797.00Z" fill="#F5870F"/>
<text x="540.4" y="802.7" font-size="15.8" text-anchor="start" font-weight="normal" fill="#F5870F" textLength="31" lengthAdjust="spacingAndGlyphs" stroke="#F5870F" stroke-width="0.3" >30 V</text>
<path d="M288.5 822.4H341.7" fill="none" stroke="#B0141C" stroke-width="3" stroke-linejoin="round"/>
<circle cx="313.90" cy="822.40" r="4.90" fill="#fff" stroke="#B0141C" stroke-width="1.2"/>
<text x="345.4" y="828.1" font-size="15.8" text-anchor="start" font-weight="normal" fill="#B0141C" textLength="22.8" lengthAdjust="spacingAndGlyphs" stroke="#B0141C" stroke-width="0.3" >5 V</text>
<path d="M380.5 822.4H433.7" fill="none" stroke="#34E02C" stroke-width="3" stroke-linejoin="round"/>
<rect x="401.80" y="817.00" width="10.80" height="10.80" fill="#fff" stroke="#34E02C" stroke-width="1.2"/>
<text x="438.6" y="828.1" font-size="15.8" text-anchor="start" font-weight="normal" fill="#34E02C" textLength="31" lengthAdjust="spacingAndGlyphs" stroke="#34E02C" stroke-width="0.3" >10 V</text>
<path d="M483.4 822.4H536.6" fill="none" stroke="#A04CD0" stroke-width="3" stroke-linejoin="round"/>
<path d="M508.90 817.50L513.80 822.40L508.90 827.30L504.00 822.40Z" fill="#fff" stroke="#A04CD0" stroke-width="1.2"/>
<text x="540.4" y="828.1" font-size="15.8" text-anchor="start" font-weight="normal" fill="#A04CD0" textLength="31" lengthAdjust="spacingAndGlyphs" stroke="#A04CD0" stroke-width="0.3" >50 V</text>
</svg></body></html>
